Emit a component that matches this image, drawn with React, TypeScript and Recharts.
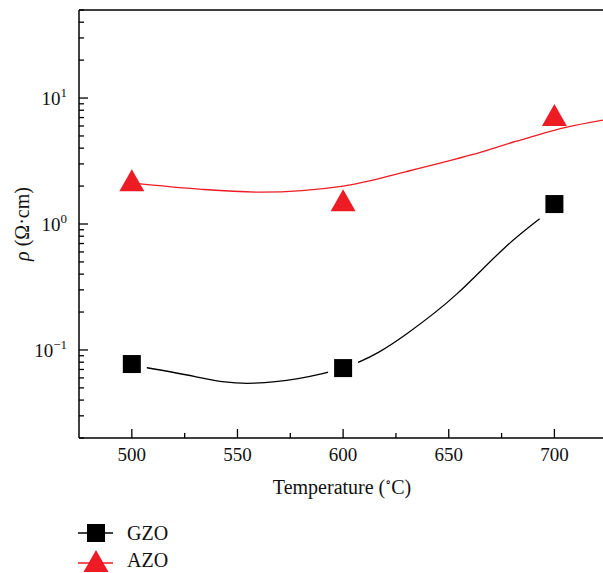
import {
  ComposedChart,
  Line,
  Scatter,
  XAxis,
  YAxis,
  ReferenceLine,
} from "recharts";

const FONT = "'Liberation Serif', 'DejaVu Serif', serif";
const RED = "#ED1C24";

// measured points
const gzoPoints = [
  { x: 500, y: 0.0773 },
  { x: 600, y: 0.0718 },
  { x: 700, y: 1.44 },
];
const azoPoints = [
  { x: 500, y: 2.08 },
  { x: 600, y: 1.44 },
  { x: 700, y: 6.84 },
];

// fitted curves
const gzoFit = [
  { x: 500, y: 0.076 },
  { x: 530, y: 0.0615 },
  { x: 558, y: 0.0545 },
  { x: 600, y: 0.072 },
  { x: 630, y: 0.134 },
  { x: 654, y: 0.28 },
  { x: 677, y: 0.66 },
  { x: 700, y: 1.35 },
];
const azoFit = [
  { x: 500, y: 2.12 },
  { x: 532, y: 1.89 },
  { x: 561, y: 1.79 },
  { x: 600, y: 2.0 },
  { x: 630, y: 2.61 },
  { x: 661, y: 3.55 },
  { x: 682, y: 4.54 },
  { x: 706, y: 5.87 },
  { x: 723, y: 6.67 },
];

const xTicks = [500, 525, 550, 575, 600, 625, 650, 675, 700];
const xLabels = [500, 550, 600, 650, 700];
const yTicks = [
  0.02, 0.03, 0.04, 0.05, 0.06, 0.07, 0.08, 0.09, 0.1,
  0.2, 0.3, 0.4, 0.5, 0.6, 0.7, 0.8, 0.9, 1,
  2, 3, 4, 5, 6, 7, 8, 9, 10, 20, 30, 40, 50,
];
const yMajor: Record<string, string> = { "0.1": "\u22121", "1": "0", "10": "1" };

function XTick(props: any) {
  const { x, y, payload } = props;
  const major = xLabels.includes(payload.value);
  return (
    <g>
      <line x1={x} x2={x} y1={y} y2={y - (major ? 9 : 5)} stroke="#000" strokeWidth={1.3} />
      {major && (
        <text x={x} y={y + 23} textAnchor="middle" fontSize={19} fontFamily={FONT} fill="#111">
          {payload.value}
        </text>
      )}
    </g>
  );
}

function YTick(props: any) {
  const { x, y, payload } = props;
  const exp = yMajor[String(payload.value)];
  const major = exp !== undefined;
  return (
    <g>
      <line x1={x} x2={x + (major ? 9 : 5)} y1={y} y2={y} stroke="#000" strokeWidth={1.3} />
      {major && (
        <text x={x - 12} y={y + 7} textAnchor="end" fontFamily={FONT} fill="#111" fontSize={19}>
          10
          <tspan fontSize={13} dy={-8}>{exp}</tspan>
        </text>
      )}
    </g>
  );
}

function SquareDot(props: any) {
  const { cx, cy } = props;
  return (
    <g>
      <rect x={cx - 15} y={cy - 15} width={30} height={30} fill="#fff" />
      <rect x={cx - 9} y={cy - 9} width={18} height={18} fill="#000" />
    </g>
  );
}

function TriangleDot(props: any) {
  const { cx, cy } = props;
  const pts = `${cx},${cy - 14.7} ${cx - 12.5},${cy + 7.3} ${cx + 12.5},${cy + 7.3}`;
  return <polygon points={pts} fill={RED} />;
}

function LegendBox() {
  return (
    <svg width={200} height={60} style={{ position: "absolute", left: 0, top: 513 }}>
      <line x1={78} x2={113} y1={20} y2={20} stroke="#000" strokeWidth={1.3} />
      <rect x={87} y={11} width={18} height={18} fill="#000" />
      <text x={127} y={27} fontSize={20} fontFamily={FONT} fill="#111">GZO</text>
      <line x1={78} x2={113} y1={50} y2={50} stroke={RED} strokeWidth={1.3} />
      <polygon points="96,37 83.5,59 108.5,59" fill={RED} />
      <text x={127} y={54} fontSize={20} fontFamily={FONT} fill="#111">AZO</text>
    </svg>
  );
}

export default function App() {
  return (
    <div style={{ position: "absolute", left: 0, top: 0, width: 603, height: 573, background: "#fff" }}>
      <ComposedChart
        width={603}
        height={573}
        margin={{ top: 10, right: 0, left: 0, bottom: 75 }}
      >
        <XAxis
          type="number"
          dataKey="x"
          domain={[475, 723]}
          ticks={xTicks}
          allowDataOverflow
          height={60}
          tickSize={0}
          tickMargin={0}
          tickLine={false}
          tick={<XTick />}
          axisLine={{ stroke: "#000", strokeWidth: 1.5 }}
        />
        <YAxis
          type="number"
          dataKey="y"
          scale="log"
          domain={[0.02, 50]}
          ticks={yTicks}
          allowDataOverflow
          width={79}
          tickSize={0}
          tickMargin={0}
          tickLine={false}
          tick={<YTick />}
          interval={0}
          axisLine={{ stroke: "#000", strokeWidth: 1.5 }}
        />
        <ReferenceLine y={50} stroke="#000" strokeWidth={1.5} />
        <Line
          data={azoFit}
          dataKey="y"
          type="monotone"
          stroke={RED}
          strokeWidth={1.3}
          dot={false}
          isAnimationActive={false}
        />
        <Line
          data={gzoFit}
          dataKey="y"
          type="natural"
          stroke="#000"
          strokeWidth={1.3}
          dot={false}
          isAnimationActive={false}
        />
        <Scatter data={gzoPoints} dataKey="y" shape={<SquareDot />} isAnimationActive={false} />
        <Scatter data={azoPoints} dataKey="y" shape={<TriangleDot />} isAnimationActive={false} />
      </ComposedChart>
      <div
        style={{
          position: "absolute",
          left: 342,
          top: 475,
          transform: "translateX(-50%)",
          fontFamily: FONT,
          fontSize: 20,
          color: "#111",
          whiteSpace: "nowrap",
        }}
      >
        Temperature (<sup style={{ fontSize: 12 }}>∘</sup>C)
      </div>
      <div
        style={{
          position: "absolute",
          left: 22,
          top: 224,
          transform: "translate(-50%, -50%) rotate(-90deg)",
          fontFamily: FONT,
          fontSize: 20,
          color: "#111",
          whiteSpace: "nowrap",
        }}
      >
        <i>ρ</i> (Ω·cm)
      </div>
      <LegendBox />
    </div>
  );
}
